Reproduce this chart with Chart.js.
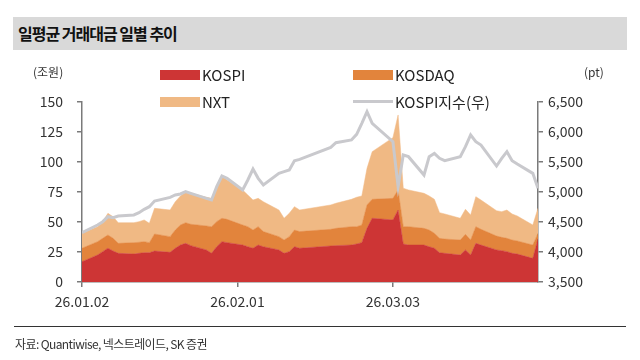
<!DOCTYPE html>
<html><head><meta charset="utf-8">
<script src="https://cdn.jsdelivr.net/npm/chart.js@4.4.1/dist/chart.umd.min.js"></script>
<style>
html,body{margin:0;padding:0;background:#fff;width:640px;height:360px;overflow:hidden;font-family:'Noto Sans CJK KR','Noto Sans',sans-serif;}
#wrap{position:relative;width:640px;height:360px;}
#titlebar{position:absolute;left:13px;top:17px;width:614px;height:33px;background:#d9d9d9;}
#titlebar span{position:absolute;left:5px;top:5px;font-size:16px;line-height:22px;font-weight:700;color:#111;letter-spacing:-1px;}
canvas{position:absolute;left:0;top:0;}
.unit{position:absolute;font-size:12px;line-height:16px;color:#333;}
.lg{position:absolute;font-size:15px;line-height:20px;color:#222;white-space:nowrap;}
.sw{position:absolute;}
#sep{position:absolute;left:14px;top:326px;width:612px;height:1px;background:#333;}
#src{position:absolute;left:15px;top:336px;font-size:12px;line-height:15px;color:#333;letter-spacing:-0.6px;}
</style></head>
<body><div id="wrap">
<div id="titlebar"><span>일평균 거래대금 일별 추이</span></div>
<canvas id="c" width="640" height="360"></canvas>
<div class="unit" style="left:33px;top:64px;">(조원)</div>
<div class="unit" style="left:584px;top:64px;">(pt)</div>
<div id="legend"></div>
<div id="sep"></div>
<div id="src">자료: Quantiwise, 넥스트레이드, SK 증권</div>
</div>
<script>
const tradeDates = [
 '26.01.02','26.01.05','26.01.06','26.01.07','26.01.08','26.01.09','26.01.12','26.01.13','26.01.14','26.01.15','26.01.16',
 '26.01.19','26.01.20','26.01.21','26.01.22','26.01.23','26.01.26','26.01.27','26.01.28','26.01.29','26.01.30',
 '26.02.02','26.02.03','26.02.04','26.02.05','26.02.06','26.02.09','26.02.10','26.02.11','26.02.12','26.02.13',
 '26.02.19','26.02.20','26.02.23','26.02.24','26.02.25','26.02.26','26.02.27',
 '26.03.03','26.03.04','26.03.05','26.03.06','26.03.09','26.03.10','26.03.11','26.03.12','26.03.13',
 '26.03.16','26.03.17','26.03.18','26.03.19','26.03.20','26.03.23','26.03.24','26.03.25','26.03.26','26.03.27',
 '26.03.30','26.03.31'
];
const kospiVol = [16.9,22.5,25.3,28.1,25.8,23.9,23.3,23.9,24.4,24.4,25.8,24.7,28.1,30.8,32.2,30.3,26.7,23.9,29.4,33.6,32.8,
 30.8,29.4,28.1,30.8,29.4,26.7,23.9,25.3,29.4,28.1,30.0,30.3,30.8,31.7,32.8,44.7,53.1,
 51.7,60.0,31.7,30.8,30.8,29.4,28.1,24.4,23.9,22.5,26.7,22.5,32.2,30.8,26.7,26.1,25.3,23.9,23.3,19.7,36.0];
const kosdaqVol = [11.2,11.1,11.1,11.1,10.6,8.3,9.5,9.2,9.2,8.4,14.2,13.1,15.2,16.7,17.2,17.8,20.0,22.2,20.9,19.5,19.4,
 16.7,16.7,15.2,15.3,12.6,11.1,11.1,12.5,13.9,13.9,13.9,14.4,15.3,14.4,14.7,19.5,15.8,
 18.0,16.7,14.4,15.3,13.9,13.9,12.5,12.0,11.9,12.5,13.0,12.5,13.9,13.1,11.6,11.1,11.1,11.1,10.9,11.1,4.5];
const nxtVol = [12.5,12.5,13.9,18.0,18.0,17.2,16.6,17.2,18.1,16.1,21.4,22.2,23.6,24.2,25.9,25.8,23.9,23.6,29.1,35.2,32.8,
 29.2,26.4,25.0,23.6,24.9,22.2,18.1,19.4,19.5,18.0,20.3,20.9,22.8,24.5,24.2,30.5,39.7,
 50.6,62.5,32.0,30.6,29.2,28.4,28.3,21.4,20.9,18.1,20.9,20.8,25.0,24.4,21.1,21.4,23.6,21.7,20.8,16.7,21.0];
const kospiIndex = [4322,4450,4505,4589,4572,4600,4617,4655,4711,4755,4850,4911,4950,4967,5006,4978,4894,4867,5089,5267,5228,
 5033,5200,5383,5228,5117,5311,5339,5367,5522,5544,5744,5822,5867,5961,6144,6339,6144,
 5839,5089,5617,5589,5283,5589,5644,5561,5522,5589,5756,5950,5839,5783,5433,5561,5672,5522,5467,5311,5061];
const xTickLabels = ['26.01.02','26.02.01','26.03.03'];
const seriesNames = ['KOSPI','KOSDAQ','NXT','KOSPI지수(우)'];
const seriesColors = ['#cd3535','#e2843c','#f0b984','#c9c9cd'];

function dayNum(s){const p=s.split('.');return Date.UTC(2000+ +p[0],+p[1]-1,+p[2])/86400000;}
const base = dayNum(tradeDates[0]);
const xs = tradeDates.map(d=>dayNum(d)-base);
const xTicks = xTickLabels.map(d=>dayNum(d)-base);
const pts = arr => xs.map((x,i)=>({x:x,y:arr[i]}));

const datasets = [
 {label:seriesNames[3],data:pts(kospiIndex),yAxisID:'y1',borderColor:seriesColors[3],borderWidth:3,fill:false,pointRadius:0,order:0,tension:0},
 {label:seriesNames[0],data:pts(kospiVol),yAxisID:'y',stack:'v',backgroundColor:seriesColors[0],borderColor:seriesColors[0],borderWidth:0.5,fill:'origin',pointRadius:0,order:1,tension:0},
 {label:seriesNames[1],data:pts(kosdaqVol),yAxisID:'y',stack:'v',backgroundColor:seriesColors[1],borderColor:seriesColors[1],borderWidth:0.5,fill:'-1',pointRadius:0,order:2,tension:0},
 {label:seriesNames[2],data:pts(nxtVol),yAxisID:'y',stack:'v',backgroundColor:seriesColors[2],borderColor:seriesColors[2],borderWidth:0.5,fill:'-1',pointRadius:0,order:3,tension:0}
];

const axisColor = '#7a7a7a';
const tickFont = {family:"'Noto Sans CJK KR','Noto Sans',sans-serif",size:14};
new Chart(document.getElementById('c'),{
 type:'line',
 data:{datasets:datasets},
 options:{
  responsive:false,animation:false,devicePixelRatio:1,
  layout:{padding:{top:102,left:0,right:0,bottom:0}},
  plugins:{legend:{display:false},tooltip:{enabled:false}},
  scales:{
   x:{type:'linear',min:0,max:xs[xs.length-1],
     afterBuildTicks:s=>{s.ticks=xTicks.map(v=>({value:v}));},
     afterFit:s=>{s.height=78;},
     grid:{drawOnChartArea:false,tickLength:5,color:axisColor,lineWidth:1.5},
     border:{color:axisColor,width:1.5},
     ticks:{padding:6,color:'#333',font:tickFont,maxRotation:0,autoSkip:false,
       callback:v=>{const i=xTicks.indexOf(v);return i>=0?xTickLabels[i]:'';}}},
   y:{position:'left',stacked:true,min:0,max:150,
     afterFit:s=>{s.width=82;},
     grid:{drawOnChartArea:false,tickLength:5,color:axisColor,lineWidth:1.5},
     border:{color:axisColor,width:1.5},
     ticks:{stepSize:25,padding:14,color:'#333',font:tickFont}},
   y1:{position:'right',min:3500,max:6500,
     afterFit:s=>{s.width=102;},
     grid:{drawOnChartArea:false,tickLength:5,color:axisColor,lineWidth:1.5},
     border:{color:axisColor,width:1.5},
     ticks:{stepSize:500,padding:5,color:'#333',font:tickFont,callback:v=>v.toLocaleString('en-US')}}
  }
 }
});

// legend (2 x 2 grid) built from the dataset labels/colors
const lg = document.getElementById('legend');
const cells = [
 {name:seriesNames[0],color:seriesColors[0],sx:160,cy:75,line:false},
 {name:seriesNames[1],color:seriesColors[1],sx:353,cy:75,line:false},
 {name:seriesNames[2],color:seriesColors[2],sx:160,cy:102,line:false},
 {name:seriesNames[3],color:seriesColors[3],sx:353,cy:102,line:true}
];
cells.forEach(c=>{
 const sw=document.createElement('div');sw.className='sw';
 sw.style.left=c.sx+'px';sw.style.width='40px';sw.style.background=c.color;
 if(c.line){sw.style.top=(c.cy-2)+'px';sw.style.height='3px';}
 else{sw.style.top=(c.cy-5)+'px';sw.style.height='10px';}
 lg.appendChild(sw);
 const t=document.createElement('div');t.className='lg';
 t.style.left=(c.sx+42)+'px';t.style.top=(c.cy-10)+'px';t.textContent=c.name;
 lg.appendChild(t);
});
</script>
</body></html>
